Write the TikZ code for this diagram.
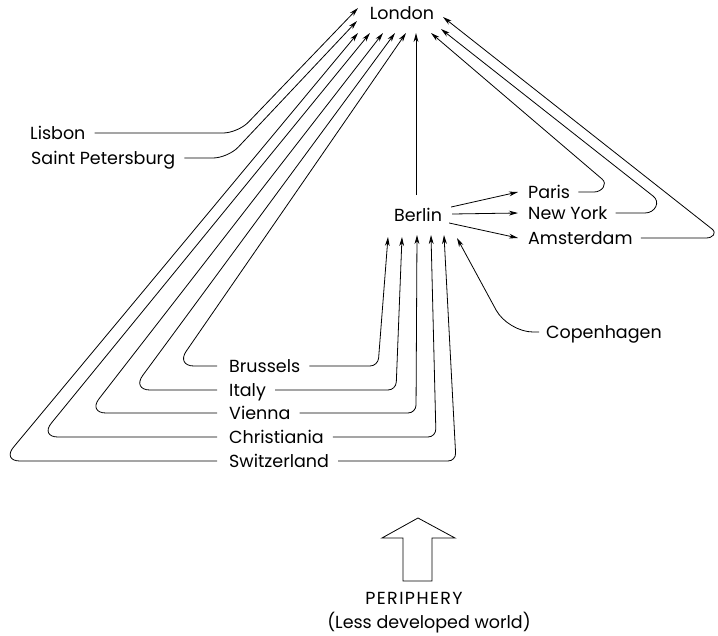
\documentclass[tikz,border=0pt]{standalone}
\usepackage{fontspec}
\setmainfont{Poppins}
\usetikzlibrary{arrows.meta,calc}
\begin{document}
\begin{tikzpicture}[x=1pt,y=-1pt,
  lbl/.style={font=\fontsize{17.5}{21}\selectfont, inner sep=0pt, text height=12.3pt, text depth=0pt},
  con/.style={line width=0.8pt},
  arr/.style={con, -{Stealth[length=9pt,width=4.8pt,inset=2.8pt]}},
]
\useasboundingbox (0,0) rectangle (718,635);

% labels
\node[lbl] (lon) at (402,13) {London};
\node[lbl, anchor=west] (lis) at (30,133) {Lisbon};
\node[lbl, anchor=west] (sp) at (31,158) {Saint Petersburg};
\node[lbl] (ber) at (418,215) {Berlin};
\node[lbl, anchor=west] (par) at (528,192) {Paris};
\node[lbl, anchor=west] (ny) at (528,213) {New York};
\node[lbl, anchor=west] (ams) at (528,238) {Amsterdam};
\node[lbl, anchor=west] (cop) at (546,332) {Copenhagen};
\node[lbl, anchor=west] (bru) at (229,366) {Brussels};
\node[lbl, anchor=west] (ita) at (229,390) {Italy};
\node[lbl, anchor=west] (vie) at (229,413) {Vienna};
\node[lbl, anchor=west] (chr) at (229,437) {Christiania};
\node[lbl, anchor=west] (swi) at (229,461) {Switzerland};
\node[lbl, font=\fontsize{17.5}{21}\selectfont\addfontfeature{LetterSpace=8}] (per) at (414,598) {PERIPHERY};
\node[lbl] (ldw) at (429,622) {(Less developed world)};

% tips at London
\coordinate (tLis) at (358,8);
\coordinate (tSP) at (357,21);
\coordinate (tSwi) at (358,33);
\coordinate (tChr) at (370,33);
\coordinate (tVie) at (383,33);
\coordinate (tIta) at (395,33);
\coordinate (tBru) at (406,33);
\coordinate (tBer) at (416,33);
\coordinate (tAms) at (443,17);
\coordinate (tNY) at (441,29);
\coordinate (tPar) at (431,33);

% tips at Berlin
\coordinate (bBru) at (388,237);
\coordinate (bIta) at (402,237);
\coordinate (bVie) at (417,235);
\coordinate (bChr) at (431,235);
\coordinate (bSwi) at (444,235);
\coordinate (bCop) at (457,238);
\coordinate (sBer) at (416,195);

% to London from the left
\draw[arr, rounded corners=15pt] ($(lis.east)+(9,0)$) -- (238,133) -- (tLis);
\draw[arr, rounded corners=15pt] ($(sp.east)+(9,0)$) -- (228,158) -- (tSP);
\draw[arr, rounded corners=18pt] ($(swi.west)+(-12,0)$) -- (2,461) -- (tSwi);
\draw[arr, rounded corners=18pt] ($(chr.west)+(-12,0)$) -- (40,437) -- (tChr);
\draw[arr, rounded corners=18pt] ($(vie.west)+(-12,0)$) -- (88,413) -- (tVie);
\draw[arr, rounded corners=18pt] ($(ita.west)+(-12,0)$) -- (132,390) -- (tIta);
\draw[arr, rounded corners=18pt] ($(bru.west)+(-12,0)$) -- (176,366) -- (tBru);

% to Berlin from below
\draw[arr, rounded corners=8pt] ($(bru.east)+(9,0)$) -- (378,366) -- (bBru);
\draw[arr, rounded corners=8pt] ($(ita.east)+(9,0)$) -- (396,390) -- (bIta);
\draw[arr, rounded corners=8pt] ($(vie.east)+(9,0)$) -- (416,413) -- (bVie);
\draw[arr, rounded corners=8pt] ($(chr.east)+(9,0)$) -- (436,437) -- (bChr);
\draw[arr, rounded corners=8pt] ($(swi.east)+(9,0)$) -- (456,461) -- (bSwi);
\draw[arr, rounded corners=25pt] ($(cop.west)+(-7,0)$) -- (508,332) -- (bCop);

% Berlin to London and outward
\draw[arr] (sBer) -- (tBer);
\draw[arr] ($(ber.east)+(9,-8)$) -- ($(par.west)+(-10,0)$);
\draw[arr] ($(ber.east)+(10,-1)$) -- ($(ny.west)+(-10,0)$);
\draw[arr] ($(ber.east)+(7,8)$) -- ($(ams.west)+(-10,0)$);

% to London from the right
\draw[arr] ($(par.east)+(8,0)$) -- (594,192) .. controls (602,192) and (608,184) .. (602,179) -- (tPar);
\draw[arr] ($(ny.east)+(8,0)$) -- (645,213) .. controls (655,213) and (661,202) .. (653,196) -- (tNY);
\draw[arr] ($(ams.east)+(8,0)$) -- (706,238) .. controls (713,238) and (717,233) .. (712,229) -- (tAms);

% periphery block arrow
\draw[con, line join=miter] (403,581) -- (403,538) -- (382,538) -- (418,518) -- (455,538) -- (432,538) -- (432,581) -- cycle;
\end{tikzpicture}
\end{document}
